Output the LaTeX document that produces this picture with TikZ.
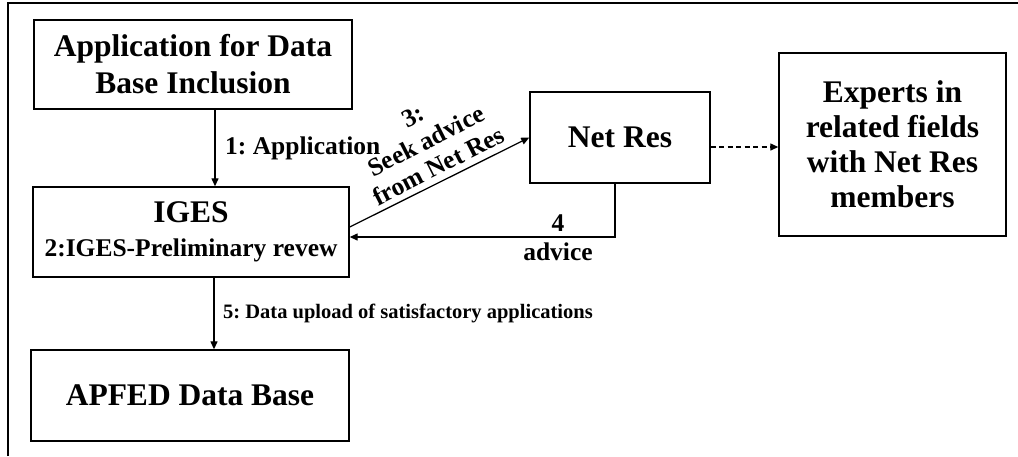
\documentclass[tikz,border=0pt]{standalone}
\usepackage{fontspec}
\setmainfont{Liberation Serif}
\usetikzlibrary{arrows.meta}
\frenchspacing
\begin{document}
\begin{tikzpicture}[x=1pt,y=-1pt,
  box/.style={draw,line width=1.4pt,inner sep=0pt,align=center,
    font=\fontsize{31.5}{37}\selectfont\bfseries},
  lbl/.style={inner sep=0pt,align=center,font=\fontsize{25.5}{28}\selectfont\bfseries},
  arr/.style={line width=1.3pt,-{Triangle[length=8pt,width=7pt]}},
  dasharr/.style={arr,dash pattern=on 5pt off 3.5pt}]
\useasboundingbox (0,0) rectangle (1018,456);
% outer frame (clipped)
\coordinate (fb) at (8,456);
\coordinate (fc) at (8,3);
\coordinate (fr) at (1018,3);
\draw[line width=1.5pt] (fb) -- (fc) -- (fr);
% boxes
\node[box,minimum width=318pt,minimum height=89pt] (app) at (193,64.5)
  {Application for Data\\Base Inclusion};
\node[box,minimum width=316pt,minimum height=90pt] (iges) at (191,232)
  {IGES\\[-3pt]{\fontsize{25.5}{27}\selectfont 2:IGES-Preliminary revew}};
\node[box,minimum width=318pt,minimum height=91pt] (apfed) at (190,395.5)
  {APFED Data Base};
\node[box,minimum width=180pt,minimum height=91pt] (netres) at (620,137.5)
  {Net Res};
\node[box,minimum width=227pt,minimum height=183pt,
  font=\fontsize{31.5}{35}\selectfont\bfseries] (experts) at (892.5,144.5)
  {Experts in\\related fields\\with Net Res\\members};
% connectors
\coordinate (x1) at (215,0);
\coordinate (x5) at (214,0);
\draw[arr] (x1 |- app.south) -- (x1 |- iges.north);
\draw[arr] (x5 |- iges.south) -- (x5 |- apfed.north);
\draw[arr] ([yshift=5pt]iges.east) -- (netres.west);
\draw[arr] ([xshift=-5pt]netres.south) |- ([yshift=-5pt]iges.east);
\coordinate (d1) at ([yshift=-9.5pt]netres.east);
\draw[dasharr] (d1) -- (d1 -| experts.west);
% labels
\node[lbl,anchor=west] (l1) at (225,148) {1: Application};
\node[lbl,rotate=27] (l3) at (426,141) {3:\\Seek advice\\from Net Res};
\node[lbl] (l4) at (558,223) {4};
\node[lbl] (l4b) at (558,252) {advice};
\node[lbl,anchor=west,font=\fontsize{20.5}{24}\selectfont\bfseries] (l5) at (223,313)
  {5: Data upload of satisfactory applications};
\end{tikzpicture}
\end{document}
